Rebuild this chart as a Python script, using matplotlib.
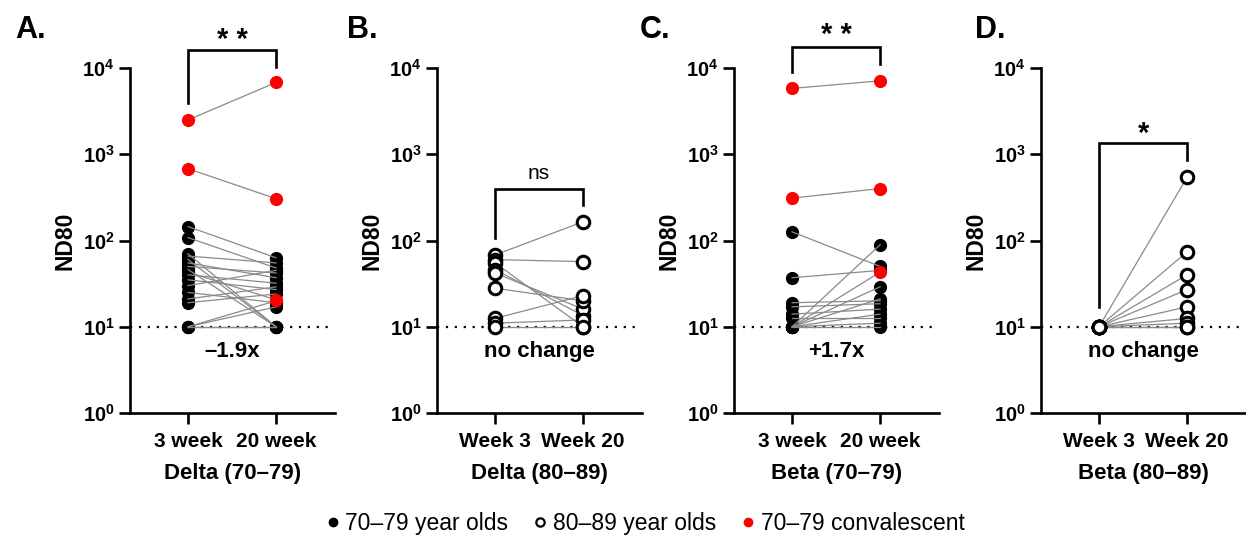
import math
import matplotlib.pyplot as plt
from matplotlib.lines import Line2D
from matplotlib.ticker import FixedLocator, NullLocator, FuncFormatter

plt.rcParams['font.family'] = ['Liberation Sans', 'DejaVu Sans']
plt.rcParams['mathtext.fontset'] = 'custom'
plt.rcParams['mathtext.rm'] = 'Liberation Sans'
plt.rcParams['mathtext.bf'] = 'Liberation Sans:bold'

# Panel A: Delta (70-79)
a_w3 = [145, 108, 70, 66, 60, 55, 50, 46, 40, 35, 30, 25, 21, 19, 10, 10, 10, 10]
a_w20 = [63, 48, 10, 55, 10, 37, 42, 10, 32, 27, 45, 19, 29, 24, 17, 20, 10, 10]
a_conv_w3 = [2500, 680, 43]
a_conv_w20 = [6800, 305, 20.5]

# Panel B: Delta (80-89)
b_w3 = [68, 60, 55, 46, 42, 28, 12.5, 11, 10]
b_w20 = [165, 57, 10, 13.5, 16, 20, 23, 12, 10]

# Panel C: Beta (70-79)
c_w3 = [126, 37, 19, 17, 14, 12.5, 10, 10, 10, 10, 10, 10]
c_w20 = [50, 45, 20, 18.5, 16, 12.5, 89, 29, 21, 14, 11, 10]
c_conv_w3 = [5800, 310, 10]
c_conv_w20 = [7100, 400, 43]

# Panel D: Beta (80-89)
d_w3 = [10, 10, 10, 10, 10, 10, 10, 10, 10]
d_w20 = [540, 74, 40, 27, 17, 12.5, 11, 10, 10]

letters = ['A.', 'B.', 'C.', 'D.']
letter_x = [15, 347, 640, 975]
xticklabels = [['3 week', '20 week'], ['Week 3', 'Week 20'],
               ['3 week', '20 week'], ['Week 3', 'Week 20']]
xlabels = ['Delta (70–79)', 'Delta (80–89)', 'Beta (70–79)', 'Beta (80–89)']
folds = ['–1.9x', 'no change', '+1.7x', 'no change']
sig = ['* *', 'ns', '* *', '*']
# bracket: top, left leg bottom, right leg bottom, label y
brackets = [(16000, 3900, 10300, 21000),
            (395, 107, 258, 600),
            (17500, 9000, 11100, 24000),
            (1350, 17, 860, 1700)]

black_groups = [(a_w3, a_w20), None, (c_w3, c_w20), None]
open_groups = [None, (b_w3, b_w20), None, (d_w3, d_w20)]
conv_groups = [(a_conv_w3, a_conv_w20), None, (c_conv_w3, c_conv_w20), None]

fig = plt.figure(figsize=(12.46, 5.39), dpi=100)
lefts = [130, 437, 734, 1041]
line_c = '#8a8a8a'
lw_ax = 1.9

def fmt(v, pos):
    e = int(round(math.log10(v)))
    return r'$\mathbf{10^{%d}}$' % e

for i in range(4):
    ax = fig.add_axes([lefts[i] / 1246, 126 / 539, 205 / 1246, 345 / 539])
    ax.set_yscale('log')
    ax.set_ylim(1, 1e4)
    ax.set_xlim(-0.66, 1.67)
    ax.yaxis.set_major_locator(FixedLocator([1, 10, 100, 1000, 10000]))
    ax.yaxis.set_minor_locator(NullLocator())
    ax.yaxis.set_major_formatter(FuncFormatter(fmt))
    ax.set_xticks([0, 1])
    ax.set_xticklabels(xticklabels[i], fontsize=15, fontweight='bold')
    for lab in ax.get_yticklabels():
        lab.set_fontsize(14.5)
    ax.spines['top'].set_visible(False)
    ax.spines['right'].set_visible(False)
    ax.spines['left'].set_linewidth(lw_ax)
    ax.spines['bottom'].set_linewidth(lw_ax)
    ax.tick_params(width=lw_ax, length=8, pad=3)
    ax.tick_params(axis='x', pad=6)
    ax.set_ylabel('ND80', fontsize=16.5, fontweight='bold', labelpad=4)
    ax.set_xlabel(xlabels[i], fontsize=16, fontweight='bold', labelpad=8)

    ax.axhline(10, xmin=0, xmax=0.97, color='black', ls=(0, (1, 3)), lw=1.6, zorder=1)

    if conv_groups[i] is not None:
        w3, w20 = conv_groups[i]
        for y0, y1 in zip(w3, w20):
            ax.plot([0, 1], [y0, y1], color=line_c, lw=0.9, zorder=2)
        ax.plot([0] * len(w3), w3, 'o', color='#ff0000', ms=9.5, mec='none', zorder=3, clip_on=False)
        ax.plot([1] * len(w20), w20, 'o', color='#ff0000', ms=9.5, mec='none', zorder=5, clip_on=False)
    if black_groups[i] is not None:
        w3, w20 = black_groups[i]
        ax.plot([0] * len(w3), w3, 'o', color='black', ms=9.5, mec='none', zorder=4)
        ax.plot([1] * len(w20), w20, 'o', color='black', ms=9.5, mec='none', zorder=4)
        for y0, y1 in zip(w3, w20):
            ax.plot([0, 1], [y0, y1], color=line_c, lw=0.9, zorder=4.5)
    if open_groups[i] is not None:
        w3, w20 = open_groups[i]
        for y0, y1 in zip(w3, w20):
            ax.plot([0, 1], [y0, y1], color=line_c, lw=0.9, zorder=2)
        ax.plot([0] * len(w3), w3, 'o', mfc='white', mec='black', mew=2.2, ms=9, zorder=4)
        ax.plot([1] * len(w20), w20, 'o', mfc='white', mec='black', mew=2.2, ms=9, zorder=4)

    top, lb, rb, ty = brackets[i]
    ax.plot([0, 0, 1, 1], [lb, top, top, rb], color='black', lw=lw_ax, clip_on=False,
            solid_joinstyle='miter')
    if sig[i] == 'ns':
        ax.text(0.5, ty, 'ns', ha='center', va='center', fontsize=15, clip_on=False)
    else:
        ax.text(0.5, ty, sig[i], ha='center', va='center', fontsize=21, fontweight='bold',
                clip_on=False)
    ax.text(0.5, 5.1, folds[i], ha='center', va='center', fontsize=16, fontweight='bold')

    fig.text(letter_x[i] / 1246, 1 - 30 / 539, letters[i], fontsize=22,
             fontweight='bold', ha='left', va='center')

handles = [Line2D([], [], ls='none', marker='o', color='black', ms=6),
           Line2D([], [], ls='none', marker='o', mfc='white', mec='black', mew=1.6, ms=6),
           Line2D([], [], ls='none', marker='o', color='#ff0000', ms=6)]
fig.legend(handles, ['70–79 year olds', '80–89 year olds', '70–79 convalescent'],
           loc='center', bbox_to_anchor=(0.517, 0.028), ncol=3, frameon=False,
           fontsize=16.5, handletextpad=0.15, columnspacing=1.0, handlelength=0.8)

fig.savefig('out.png', dpi=100)
